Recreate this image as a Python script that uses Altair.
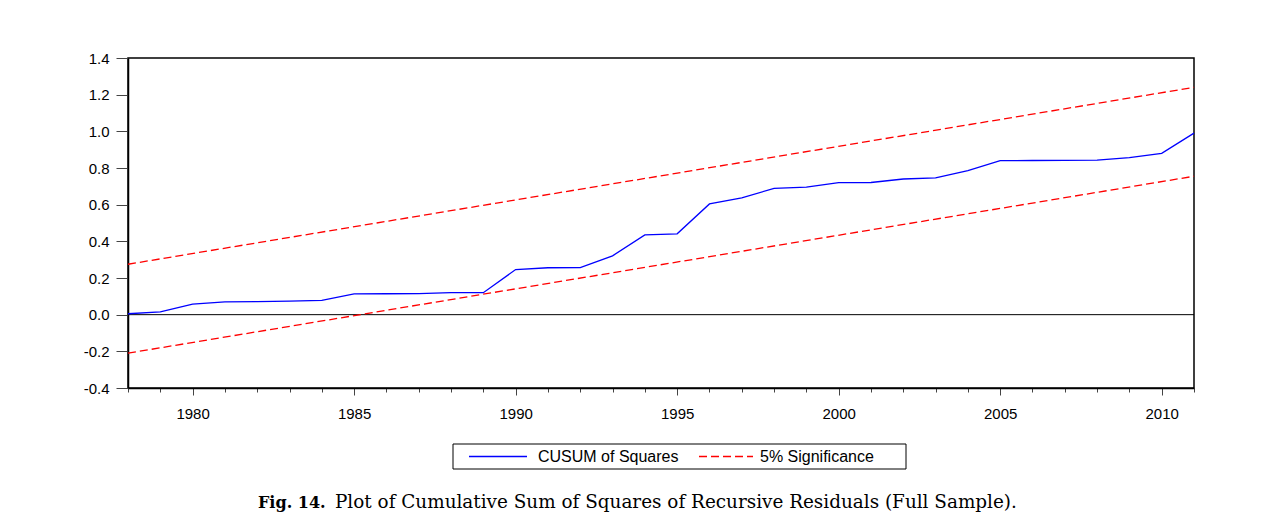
import altair as alt
import pandas as pd

# ---- data ----
years = list(range(1978, 2012))
cusum_sq = [0.005, 0.015, 0.058, 0.070, 0.071, 0.074, 0.078, 0.113, 0.114, 0.115,
            0.120, 0.120, 0.246, 0.256, 0.257, 0.321, 0.435, 0.441, 0.604, 0.637,
            0.689, 0.696, 0.720, 0.721, 0.740, 0.746, 0.786, 0.840, 0.841, 0.842,
            0.843, 0.857, 0.880, 0.990]
band_years = [1978, 2011]
upper_band = [0.275, 1.240]
lower_band = [-0.210, 0.755]
y_ticks = [-0.4, -0.2, 0.0, 0.2, 0.4, 0.6, 0.8, 1.0, 1.2, 1.4]
series_names = ["CUSUM of Squares", "5% Significance"]
caption_bold = "Fig. 14."
caption_text = "Plot of Cumulative Sum of Squares of Recursive Residuals (Full Sample)."

W, H = 1066, 330
FONT = "Liberation Sans"

cusum_df = pd.DataFrame({"year": years, "value": cusum_sq})
band_df = pd.concat([
    pd.DataFrame({"year": band_years, "value": upper_band, "band": "upper"}),
    pd.DataFrame({"year": band_years, "value": lower_band, "band": "lower"}),
])
one = pd.DataFrame({"a": [0]})

x_scale = alt.Scale(domain=[1978, 2011], nice=False, zero=False)
y_scale = alt.Scale(domain=[-0.4, 1.4], nice=False, zero=False)

x_axis = alt.Axis(
    values=years, title=None, grid=False,
    labelExpr="datum.value % 5 == 0 ? toString(datum.value) : ''",
    tickSize={"condition": {"test": "datum.value % 5 == 0", "value": 7}, "value": 4},
    tickColor="#444", tickWidth=1, domainColor="black", domainWidth=1.5,
    labelFont=FONT, labelFontSize=15, labelColor="black", labelPadding=11,
)
y_axis = alt.Axis(
    values=y_ticks, title=None, grid=False,
    labelExpr="datum.value < 0 ? '-' + format(-datum.value, '.1f') : format(datum.value, '.1f')",
    tickSize=12, tickColor="#444", tickWidth=1, domainColor="black", domainWidth=1.5,
    labelFont=FONT, labelFontSize=15, labelColor="black", labelPadding=7,
)

zero_line = alt.Chart(pd.DataFrame({"v": [0.0]})).mark_rule(
    color="black", strokeWidth=1
).encode(y=alt.Y("v:Q", scale=y_scale, axis=y_axis))

cusum_line = alt.Chart(cusum_df).mark_line(
    color="#0000ff", strokeWidth=1.3
).encode(
    x=alt.X("year:Q", scale=x_scale, axis=x_axis),
    y=alt.Y("value:Q", scale=y_scale, axis=y_axis),
)

band_lines = alt.Chart(band_df).mark_line(
    color="#ff0000", strokeWidth=1.3, strokeDash=[8, 4]
).encode(
    x=alt.X("year:Q", scale=x_scale, axis=x_axis),
    y=alt.Y("value:Q", scale=y_scale, axis=y_axis),
    detail="band:N",
)

# ---- legend (drawn by hand, boxed, below the plot) ----
leg_box = alt.Chart(one).mark_rect(fill="white", stroke="black", strokeWidth=1).encode(
    x=alt.value(325), x2=alt.value(778), y=alt.value(386), y2=alt.value(411)
)
leg_blue = alt.Chart(one).mark_rule(color="#0000ff", strokeWidth=1.3).encode(
    x=alt.value(341), x2=alt.value(399), y=alt.value(398.5)
)
leg_red = alt.Chart(one).mark_rule(color="#ff0000", strokeWidth=1.3, strokeDash=[8, 4]).encode(
    x=alt.value(571), x2=alt.value(625), y=alt.value(398.5)
)
leg_t1 = alt.Chart(one).mark_text(
    align="left", baseline="middle", font=FONT, fontSize=16, color="black", text=series_names[0]
).encode(x=alt.value(410), y=alt.value(398.5))
leg_t2 = alt.Chart(one).mark_text(
    align="left", baseline="middle", font=FONT, fontSize=16, color="black", text=series_names[1]
).encode(x=alt.value(632), y=alt.value(398.5))

# ---- caption ----
cap_b = alt.Chart(one).mark_text(
    align="left", baseline="alphabetic", font="DejaVu Serif", fontSize=16,
    fontWeight="bold", color="black", text=caption_bold
).encode(x=alt.value(130), y=alt.value(450))
cap_t = alt.Chart(one).mark_text(
    align="left", baseline="alphabetic", font="DejaVu Serif", fontSize=18.4,
    color="black", text=caption_text
).encode(x=alt.value(207), y=alt.value(450))

chart = alt.layer(
    zero_line, band_lines, cusum_line,
    leg_box, leg_blue, leg_red, leg_t1, leg_t2, cap_b, cap_t
).properties(
    width=W, height=H,
    autosize="none",
    padding={"left": 120, "top": 50, "right": 60, "bottom": 130},
    background="white",
).configure_view(
    stroke="black", strokeWidth=1.5
)

chart.save("out.html", embed_options={"renderer": "svg", "actions": False})
